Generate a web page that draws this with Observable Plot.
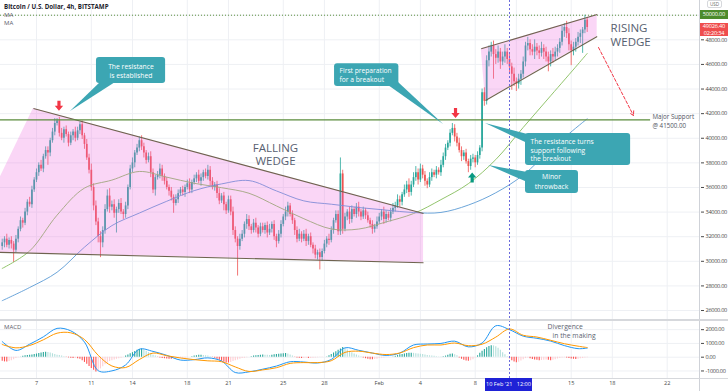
<!DOCTYPE html>
<html>
<head>
<meta charset="utf-8">
<script src="https://cdn.jsdelivr.net/npm/d3@7"></script>
<script src="https://cdn.jsdelivr.net/npm/@observablehq/plot@0.6"></script>
<style>
html,body{margin:0;padding:0;background:#fff;}
#wrap{position:relative;width:728px;height:391px;overflow:hidden;font-family:"Open Sans","DejaVu Sans",sans-serif;}
#main,#macd{position:absolute;left:0;}
#main{top:0;}
#macd{top:320px;}
.ov{position:absolute;white-space:nowrap;}
</style>
</head>
<body>
<div id="wrap">
  <div id="main"></div>
  <div id="macd"></div>
</div>
<script>
// ================= DATA =================
const title = "Bitcoin / U.S. Dollar, 4h, BITSTAMP";
const candleStart = "2021-01-04T12:00Z";   // first 4h candle
const firstOpen = 312;                      // hundreds of USD
// 4h closes, hundreds of USD
const closes = [
315,318,313,317,314,309,318,
326,333,331,340,348,346,358,366,
372,378,375,385,390,
388,398,405,412,414,
404,400,407,403,396,402,405,400,406,411,
402,395,384,374,
360,345,332,320,315,
325,342,353,344,
346,339,342,347,340,338,345,
360,375,380,388,392,398,
393,388,382,385,
372,358,368,
370,375,369,365,360,357,
352,347,350,355,358,
356,360,363,358,364,367,
370,365,368,372,369,374,365,
360,362,355,349,353,346,341,350,
340,325,318,312,318,
322,330,334,328,
325,331,327,322,328,
325,329,323,326,330,320,316,322,
330,336,340,345,338,
333,325,318,322,
318,322,316,320,313,310,305,
307,303,308,
314,318,317,325,333,338,
324,371,326,
336,340,334,342,338,344,340,336,341,337,333,
330,326,328,332,
336,340,334,338,335,340,343,
345,350,348,354,358,362,356,
362,368,372,366,375,370,
365,362,368,372,
370,374,372,378,385,392,396,
404,408,401,
396,390,385,388,381,377,383,
384,380,386,392,
437,430,463,
470,475,468,
465,470,462,466,470,464,
458,452,446,444,
448,452,462,475,
477,472,470,474,471,469,473,470,466,
462,468,466,470,473,
478,487,490,485,
476,471,474,
478,482,485,488,
496,490
];
// wick lengths above / below the body, hundreds of USD
const upperWick = [
3,2,4,2,3,2,3, 2,3,2,3,2,4,3,2, 3,2,4,2,3, 3,2,3,4,2, 3,4,2,3,2,3,2,4,3,2, 3,2,4,3, 5,3,4,3,4, 3,4,5,6,
3,4,2,3,4,2,3, 2,3,4,2,3,3, 4,3,2,3, 4,3,2, 3,4,3,2,3,2, 3,2,4,3,2, 3,2,3,4,2,3, 2,4,3,2,3,4,3,
3,2,3,4,2,3,2,3, 3,4,3,2,4, 3,2,4,3, 2,3,4,2,3, 3,2,3,4,2,3,2,3, 3,2,4,3,2, 3,2,3,4, 2,3,4,2,3,2,3,
2,3,2, 3,2,4,3,2,3, 3,13,3, 3,2,4,3,2,3,4,2,3,2,3, 2,3,2,4, 3,2,4,3,2,3,4, 3,4,3,2,4,3,5, 3,4,5,3,4,3,
3,2,4,3, 2,3,2,4,3,3,2, 3,4,3, 3,4,3,2,3,2,3, 3,2,3,2, 3,4,4, 5,3,4, 4,5,3,4,6,3, 4,3,5,3, 4,3,4,3,
5,3,4,6,3,4,5,3,4, 4,3,5,4,3, 3,4,3,5, 4,3,4, 3,4,3,2, 4,2
];
const lowerWick = [
3,4,2,3,4,10,2, 3,2,4,2,3,2,3,2, 2,3,2,3,2, 10,3,2,3,2, 3,2,4,2,3,2,4,3,2,3, 3,4,2,3, 3,4,3,5,12, 4,3,2,5,
3,4,16,3,2,4,3, 3,2,3,4,2,3, 3,4,3,2, 4,3,5, 2,3,4,3,2,4, 3,8,2,3,2, 3,4,2,3,3,2, 3,2,4,3,2,3,4,
2,3,4,3,2,5,3,2, 3,4,3,24,3, 2,3,4,3, 3,2,4,3,2, 2,3,4,2,3,3,5,2, 3,2,3,4,2, 3,4,3,2, 3,2,4,3,2,4,3,
4,10,3, 2,3,4,2,3,2, 3,3,4, 2,3,4,3,2,3,4,3,2,3,2, 3,4,3,2, 2,3,4,3,2,3,2, 3,2,4,3,2,3,4, 3,2,3,4,2,3,
4,3,2,3, 2,3,2,3,2,3,2, 3,2,4, 3,2,4,3,2,5,3, 3,4,2,3, 3,4,3, 5,4,20, 5,4,6,3,5,4, 6,13,4,6, 4,5,3,4,
4,5,3,6,4,5,3,6,4, 8,4,5,3,4, 4,3,5,4, 5,12,4, 4,3,5,16, 3,4
];
// moving averages sampled at these candle indices (USD)
const maSampleIdx = [0,12,24,36,48,60,72,84,96,108,120,132,144,156,168,180,192,204,216,228,240,252,256];
const maGreen = [29420,30840,33750,35950,36600,37300,36840,36340,35980,35530,34500,33460,32630,32620,33200,33880,35010,36310,38270,40880,43450,46020,46890];
const maBlue  = [26800,27870,29110,31150,32900,33920,34880,35740,36290,36560,35720,34910,34640,34370,34160,33960,33970,34570,35570,37010,39090,40980,41580];
// MACD / signal sampled at these candle indices
const macdSampleIdx = [0,6,12,18,24,30,36,42,48,54,60,66,72,78,84,90,96,102,108,114,120,126,132,138,144,150,156,162,168,174,180,186,192,198,204,210,216,222,228,234,240,246,252,256];
const macdLine   = [1136,493,943,1479,2093,1914,1100,-979,-993,-564,579,421,136,-207,-179,-50,-279,-1114,-1064,-871,-643,-329,-350,-421,-164,679,500,300,129,300,886,957,1000,1164,750,1029,2280,2000,1529,1371,1171,843,621,657];
const signalLine = [921,679,850,1264,1743,1771,1286,136,-636,-750,-171,300,107,-57,-179,-264,-329,-707,-1036,-921,-764,-450,-393,-393,-257,350,436,300,193,307,693,886,886,1029,836,943,1457,2050,1593,1464,1229,979,800,700];
// MACD histogram, one value per candle
const histogram = [
-300,-340,-350,-320,-250,-180, -100,-40,10, 60,100,130,150,160, 190,230,270,310,340,360,350, 300,250, 200,150,120,80,40,
-20,-50,-80,-100,-90,-110,-150, -250,-380,-520,-680,-820,-950,-1070, -1000,-850,-700,-550,-420,-320, -250,-200,-150,-110,-70,-30,
80,160,250,330,420,500,560,600, 520,430,330,240,150,80, -30,-60,-90,-110,-130,-140,-150,-130,-120, -110,-100,-90,-70,-40,-10,
40,80,110,140,150,130,110,80,40, -30,-80,-150,-220,-300,-370,-420,-430,-380,-320,-260,-200,-150, -100,-70,-40,-10,
40,80,110,130,150,160,150,140,130,150,170,190,210,230,250, 260,230,160,80, -20,-50,-80,-100,-90,-80,-100,-90,-70,
-50,-40,-30,-20,-10,20, 100,200,300,400,500,600,700, 620,520,420,330,240,160,90,30, -60,-110,-150,-180,-190,-170,-140,-100,
-70,-50,-30,-20,-10,10, 60,120,170,200,230,260,280,290,280,250,230,210,190, 160,130,100,80,60,40,20,10,30,
80,150,220,240,180,100, -60,-150,-220,-270,-290,-250,-180, -60,100,280,430,560,680,780,830,820,760,650, 500,330,180,40,
-120,-250,-350,-400,-370, -270,-180,-100,-60, -120,-160,-200,-230,-250,-240,-220,-200,-230,-250,-220,-180,
-130,-90,-60,-40,-60,-100, -130,-150,-160,-140,-120,-100, -60,-40
];
const priceTicks = [26000,28000,30000,32000,34000,36000,38000,40000,42000,44000,46000,48000,50000];
const macdTicks = [-1000,0,1000,2000];
const dateTicks = ["2021-01-07","2021-01-11","2021-01-14","2021-01-18","2021-01-21","2021-01-25","2021-01-28","2021-02-01","2021-02-04","2021-02-08","2021-02-11","2021-02-15","2021-02-18","2021-02-22"];
const dateTickLabels = ["7","11","14","18","21","25","28","Feb","4","8","","15","18","22"];
const supportLevel = 41500;
const targetLevel = 50000;
const lastPrice = 49026.40;
const countdown = "02:20:34";
const crosshairTime = "2021-02-10T12:00Z";
const crosshairLabel = "10 Feb '21\u00a0\u00a0\u00a012:00";

// ---- drawings (data coordinates: time, price) ----
const fallingWedge = {
  apex: {t: "2021-01-01T18:00Z", p: 30796},
  top: {t: "2021-01-06T18:40Z", p: 42418},
  upperEnd: {t: "2021-02-04T05:30Z", p: 33884},
  lowerEnd: {t: "2021-02-04T05:30Z", p: 29878}
};
const risingWedge = {
  upperStart: {t: "2021-02-08T10:30Z", p: 47270},
  upperEnd: {t: "2021-02-16T21:30Z", p: 50057},
  lowerStart: {t: "2021-02-08T18:00Z", p: 43068},
  lowerEnd: {t: "2021-02-16T21:30Z", p: 48269}
};
const supportLineEnd = "2021-02-20T19:00Z";
const callouts = [
  {box: {t1: "2021-01-11T09:00Z", t2: "2021-01-16T10:00Z", p1: 44450, p2: 46563},
   tip: {t: "2021-01-09T11:30Z", p: 42174},
   base: [{t: "2021-01-11T16:00Z", p: 44531}, {t: "2021-01-12T18:20Z", p: 44531}],
   anchor: "middle", textT: "2021-01-13T21:25Z", lines: [["The resistance", 45831], ["is established", 45100]]},
  {box: {t1: "2021-01-28T17:45Z", t2: "2021-02-02T10:20Z", p1: 44206, p2: 46051},
   tip: {t: "2021-02-05T16:35Z", p: 41118},
   base: [{t: "2021-02-01T16:10Z", p: 44290}, {t: "2021-02-02T09:40Z", p: 44531}],
   anchor: "start", textT: "2021-01-29T02:25Z", lines: [["First preparation", 45470], ["for a breakout", 44760]]},
  {box: {t1: "2021-02-11T16:00Z", t2: "2021-02-19T08:00Z", p1: 37786, p2: 40386},
   tip: {t: "2021-02-08T18:00Z", p: 41199},
   base: [{t: "2021-02-11T20:00Z", p: 40305}, {t: "2021-02-11T20:00Z", p: 39573}],
   anchor: "start", textT: "2021-02-12T00:45Z", lines: [["The resistance turns", 39700], ["support following", 39005], ["the breakout", 38310]]},
  {box: {t1: "2021-02-11T16:00Z", t2: "2021-02-15T12:45Z", p1: 35510, p2: 37379},
   tip: {t: "2021-02-08T23:20Z", p: 37785},
   base: [{t: "2021-02-11T20:00Z", p: 37217}, {t: "2021-02-11T20:00Z", p: 36404}],
   anchor: "middle", textT: "2021-02-13T13:30Z", lines: [["Minor", 36830], ["throwback", 36060]]}
];
const markerArrows = [
  {t: "2021-01-08T15:20Z", p: 42637, dir: "down"},
  {t: "2021-02-06T13:30Z", p: 42052, dir: "down"},
  {t: "2021-02-07T18:40Z", p: 36810, dir: "up"}
];
const projection = {t1: "2021-02-16T23:50Z", p1: 47375, t2: "2021-02-19T13:00Z", p2: 41849};
const patternLabels = [
  {t: "2021-01-24T10:20Z", p: 39208, text: "FALLING", anchor: "middle"},
  {t: "2021-01-24T10:20Z", p: 38111, text: "WEDGE", anchor: "middle"},
  {t: "2021-02-17T21:00Z", p: 48919, text: "RISING", anchor: "start"},
  {t: "2021-02-17T21:00Z", p: 47782, text: "WEDGE", anchor: "start"}
];
const supportLabels = [
  {t: "2021-02-20T22:15Z", p: 41690, text: "Major Support"},
  {t: "2021-02-20T22:15Z", p: 41000, text: "@ 41500.00"}
];
const macdNotes = [
  {t: "2021-02-13T06:30Z", v: 2190, text: "Divergence"},
  {t: "2021-02-13T15:20Z", v: 1570, text: "in the making"}
];

// ================= BUILD =================
const D = s => new Date(s);
const H4 = 4 * 3600 * 1000;
const t0 = Date.parse(candleStart);
const candleDate = i => new Date(t0 + i * H4);
const UP = "#26a69a", DOWN = "#ef5350";
const candles = closes.map((c, i) => {
  const open = (i === 0 ? firstOpen : closes[i - 1]) * 100;
  const close = c * 100;
  const high = Math.max(open, close) + (upperWick[i] ?? 0) * 100;
  const low = Math.min(open, close) - (lowerWick[i] ?? 0) * 100;
  const mid = (open + close) / 2;
  const tiny = Math.abs(open - close) < 90;
  return {date: candleDate(i), open, close, high, low,
    b1: tiny ? mid - 45 : open, b2: tiny ? mid + 45 : close,
    color: close >= open ? UP : DOWN};
});
const maG = maSampleIdx.map((idx, k) => ({date: candleDate(idx), v: maGreen[k]}));
const maB = maSampleIdx.map((idx, k) => ({date: candleDate(idx), v: maBlue[k]}));
const macdPts = macdSampleIdx.map((idx, k) => ({date: candleDate(idx), v: macdLine[k]}));
const sigPts = macdSampleIdx.map((idx, k) => ({date: candleDate(idx), v: signalLine[k]}));
const hist = histogram.map((v, i) => {
  const prev = i ? histogram[i - 1] : v;
  let color;
  if (v >= 0) color = v >= prev ? "#26a69a" : "#b2dfdb";
  else color = v <= prev ? "#ff5252" : "#ffcdd2";
  return {date: candleDate(i), v, color};
});

const lerpAt = (a, b, t) => {
  const ta = +D(a.t), tb = +D(b.t), tt = +D(t);
  return a.p + (b.p - a.p) * (tt - ta) / (tb - ta);
};
const fw = fallingWedge;
const fallRows = [
  {x: D(fw.apex.t), y1: fw.apex.p, y2: fw.apex.p},
  {x: D(fw.top.t), y1: lerpAt(fw.apex, fw.lowerEnd, fw.top.t), y2: fw.top.p},
  {x: D(fw.upperEnd.t), y1: fw.lowerEnd.p, y2: fw.upperEnd.p}
];
const rw = risingWedge;
const riseRows = [
  {x: D(rw.upperStart.t), y1: rw.upperStart.p, y2: rw.upperStart.p},
  {x: D(rw.lowerStart.t), y1: rw.lowerStart.p, y2: lerpAt(rw.upperStart, rw.upperEnd, rw.lowerStart.t)},
  {x: D(rw.upperEnd.t), y1: rw.lowerEnd.p, y2: rw.upperEnd.p}
];
const trendLines = [
  [fw.top, fw.upperEnd], [fw.apex, fw.lowerEnd],
  [rw.upperStart, rw.upperEnd], [rw.lowerStart, rw.lowerEnd]
].map(([a, b]) => ({t1: D(a.t), p1: a.p, t2: D(b.t), p2: b.p}));

const pointerRows = callouts.flatMap((c, k) => [
  {id: k, x1: D(c.tip.t), y1: c.tip.p, x2: D(c.tip.t), y2: c.tip.p},
  {id: k, x1: D(c.base[0].t), y1: c.base[0].p, x2: D(c.base[1].t), y2: c.base[1].p}
]);
const boxRows = callouts.map(c => ({t1: D(c.box.t1), t2: D(c.box.t2), p1: c.box.p1, p2: c.box.p2}));
const calloutText = anchor => callouts.filter(c => c.anchor === anchor)
  .flatMap(c => c.lines.map(([text, p]) => ({t: D(c.textT), p, text})));

const arrowDown = {draw(ctx, size) {
  const s = Math.sqrt(size);
  const w = 0.16 * s, hw = 0.42 * s, top = -0.5 * s, mid = 0.0, tip = 0.5 * s;
  ctx.moveTo(-w, top); ctx.lineTo(w, top); ctx.lineTo(w, mid); ctx.lineTo(hw, mid);
  ctx.lineTo(0, tip); ctx.lineTo(-hw, mid); ctx.lineTo(-w, mid); ctx.closePath();
}};
const arrowUp = {draw(ctx, size) {
  const s = Math.sqrt(size);
  const w = 0.16 * s, hw = 0.42 * s, bot = 0.5 * s, mid = 0.0, tip = -0.5 * s;
  ctx.moveTo(-w, bot); ctx.lineTo(w, bot); ctx.lineTo(w, mid); ctx.lineTo(hw, mid);
  ctx.lineTo(0, tip); ctx.lineTo(-hw, mid); ctx.lineTo(-w, mid); ctx.closePath();
}};

const font = '"Open Sans","DejaVu Sans",sans-serif';
const xDomain = [D("2021-01-04T09:00Z"), D("2021-02-24T10:20Z")];
const gridColor = "#eef0f4";
const PINK = "#ee66dd";
const TEAL = "#3ca6b3";
const tickDates = dateTicks.map(d => D(d + "T00:00Z"));
const tickLabel = new Map(tickDates.map((d, i) => [+d, dateTickLabels[i]]));
const cross = D(crosshairTime);
// the 50000 label is shown by its own green price tag, so the plain axis label is left out
const priceAxisTicks = priceTicks.filter(p => p !== targetLevel);

const main = Plot.plot({
  width: 728, height: 320,
  marginTop: 0, marginBottom: 0, marginLeft: 0, marginRight: 28,
  style: {fontFamily: font, fontSize: "5.6px", color: "#4a4a4a", background: "transparent"},
  x: {type: "utc", domain: xDomain, axis: null},
  y: {domain: [25189, 51195], axis: "right", ticks: priceAxisTicks, tickFormat: d => d.toFixed(2), tickSize: 3, tickPadding: 2, label: null},
  color: {type: "identity"},
  marks: [
    Plot.ruleX(tickDates, {stroke: gridColor}),
    Plot.ruleY(priceTicks, {stroke: gridColor}),
    Plot.ruleX(candles, {x: "date", y1: "low", y2: "high", stroke: d => d.color, strokeWidth: 0.8}),
    Plot.ruleX(candles, {x: "date", y1: "b1", y2: "b2", stroke: d => d.color, strokeWidth: 1.7}),
    Plot.line(maG, {x: "date", y: "v", stroke: "#86bd5c", strokeWidth: 0.9, curve: "catmull-rom"}),
    Plot.line(maB, {x: "date", y: "v", stroke: "#5b9bd5", strokeWidth: 0.9, curve: "catmull-rom"}),
    Plot.areaY(fallRows, {x: "x", y1: "y1", y2: "y2", fill: PINK, fillOpacity: 0.27}),
    Plot.areaY(riseRows, {x: "x", y1: "y1", y2: "y2", fill: PINK, fillOpacity: 0.27}),
    Plot.link(trendLines, {x1: "t1", y1: "p1", x2: "t2", y2: "p2", stroke: "#6f634f", strokeWidth: 1.1}),
    Plot.ruleY([{p: supportLevel, t1: xDomain[0], t2: D(supportLineEnd)}], {y: "p", x1: "t1", x2: "t2", stroke: "#5b8c3c", strokeWidth: 1.2}),
    Plot.ruleY([targetLevel], {stroke: "#5a8f3c", strokeDasharray: "1,2"}),
    Plot.ruleX([cross], {stroke: "#6b6bdc", strokeDasharray: "2,2"}),
    Plot.arrow([projection], {x1: d => D(d.t1), y1: "p1", x2: d => D(d.t2), y2: "p2", stroke: "#f23645", strokeWidth: 1, strokeDasharray: "3,2", headLength: 7}),
    Plot.area(pointerRows, {x1: "x1", y1: "y1", x2: "x2", y2: "y2", z: "id", fill: TEAL}),
    Plot.rect(boxRows, {x1: "t1", x2: "t2", y1: "p1", y2: "p2", fill: TEAL, rx: 3}),
    Plot.text(calloutText("middle"), {x: "t", y: "p", text: "text", fill: "#fff", fontSize: 6.8, textAnchor: "middle", lineAnchor: "middle"}),
    Plot.text(calloutText("start"), {x: "t", y: "p", text: "text", fill: "#fff", fontSize: 6.7, textAnchor: "start", lineAnchor: "middle"}),
    Plot.dot(markerArrows.filter(d => d.dir === "down"), {x: d => D(d.t), y: "p", symbol: arrowDown, r: 5.6, fill: "#f23645", stroke: "none"}),
    Plot.dot(markerArrows.filter(d => d.dir === "up"), {x: d => D(d.t), y: "p", symbol: arrowUp, r: 5.6, fill: "#089981", stroke: "none"}),
    Plot.text(patternLabels.filter(d => d.anchor === "middle"), {x: d => D(d.t), y: "p", text: "text", fill: "#576070", fontSize: 11.5, textAnchor: "middle", lineAnchor: "middle"}),
    Plot.text(patternLabels.filter(d => d.anchor === "start"), {x: d => D(d.t), y: "p", text: "text", fill: "#576070", fontSize: 11.5, textAnchor: "start", lineAnchor: "middle"}),
    Plot.text(supportLabels, {x: d => D(d.t), y: "p", text: "text", fill: "#50535e", fontSize: 6.2, textAnchor: "start", lineAnchor: "middle"})
  ]
});
document.getElementById("main").appendChild(main);

const macd = Plot.plot({
  width: 728, height: 71,
  marginTop: 0, marginBottom: 13, marginLeft: 0, marginRight: 28,
  style: {fontFamily: font, fontSize: "5.6px", color: "#4a4a4a", background: "transparent"},
  x: {type: "utc", domain: xDomain, ticks: tickDates, tickFormat: d => tickLabel.get(+d) ?? "", tickSize: 0, tickPadding: 3, label: null},
  y: {domain: [-1547, 2665], axis: "right", ticks: macdTicks, tickFormat: d => d.toFixed(2), tickSize: 3, tickPadding: 2, label: null},
  color: {type: "identity"},
  marks: [
    Plot.ruleX(tickDates, {stroke: gridColor}),
    Plot.ruleY(macdTicks, {stroke: gridColor}),
    Plot.ruleX(hist, {x: "date", y1: 0, y2: "v", stroke: d => d.color, strokeWidth: 1.1}),
    Plot.line(macdPts, {x: "date", y: "v", stroke: "#2196f3", strokeWidth: 1, curve: "catmull-rom"}),
    Plot.line(sigPts, {x: "date", y: "v", stroke: "#ff9800", strokeWidth: 1, curve: "catmull-rom"}),
    Plot.ruleX([cross], {stroke: "#6b6bdc", strokeDasharray: "2,2"}),
    Plot.text(macdNotes, {x: d => D(d.t), y: "v", text: "text", fill: "#5d6471", fontSize: 6.8, textAnchor: "start", lineAnchor: "middle"})
  ]
});
document.getElementById("macd").appendChild(macd);

// tighten the right-hand price labels so they fit the 28px axis strip
for (const svg of [main, macd]) {
  d3.select(svg).selectAll("g[aria-label^='y-axis'] text").style("letter-spacing", "-0.3px");
}

// ---- overlays (legend, price tags, separators) ----
const wrap = document.getElementById("wrap");
function ov(html, css) {
  const d = document.createElement("div");
  d.className = "ov"; d.innerHTML = html; Object.assign(d.style, css); wrap.appendChild(d); return d;
}
const ys = main.scale("y");
const yPx = v => ys.range[0] + (v - ys.domain[0]) / (ys.domain[1] - ys.domain[0]) * (ys.range[1] - ys.range[0]);
const xs = main.scale("x");
const xPx = d => xs.range[0] + (+d - +xs.domain[0]) / (+xs.domain[1] - +xs.domain[0]) * (xs.range[1] - xs.range[0]);

ov("", {left: "699px", top: "0px", width: "1px", height: "391px", background: "#cfd2d8"});
ov("", {left: "0px", top: "318.5px", width: "728px", height: "2px", background: "#d6d8dc"});
ov("", {left: "0px", top: "378px", width: "728px", height: "1px", background: "#d6d8dc"});

ov(title, {left: "4px", top: "3px", fontSize: "6.2px", fontWeight: "700", color: "#1e222d", lineHeight: "8px"});
ov("MA", {left: "4px", top: "11px", fontSize: "6px", color: "#5d606b", lineHeight: "8px"});
ov("MA", {left: "4px", top: "19.3px", fontSize: "6px", color: "#5d606b", lineHeight: "8px"});
ov("MACD", {left: "4px", top: "323px", fontSize: "6px", color: "#5d606b", lineHeight: "8px"});
ov("USD", {left: "707px", top: "0px", fontSize: "4.6px", color: "#666", lineHeight: "6px", border: "1px solid #d6d8dc", borderRadius: "2px", padding: "0 2px", background: "#fff"});

ov(targetLevel.toFixed(2), {left: "700px", top: (yPx(targetLevel) - 4.5) + "px", width: "28px", height: "9px", background: "#4c8b2b", color: "#fff", fontSize: "5.6px", letterSpacing: "-0.2px", lineHeight: "9px", textAlign: "center"});
ov(lastPrice.toFixed(2) + "<br>" + countdown, {left: "700px", top: (yPx(lastPrice) - 3.3) + "px", width: "28px", height: "13px", background: "#ef4d4d", color: "#fff", fontSize: "5.6px", letterSpacing: "-0.2px", lineHeight: "6.5px", textAlign: "center"});
ov(crosshairLabel, {left: (xPx(cross) - 24) + "px", top: "378px", width: "47px", height: "13px", background: "#1f22d6", color: "#fff", fontSize: "5.6px", lineHeight: "13px", textAlign: "center"});
</script>
</body>
</html>
